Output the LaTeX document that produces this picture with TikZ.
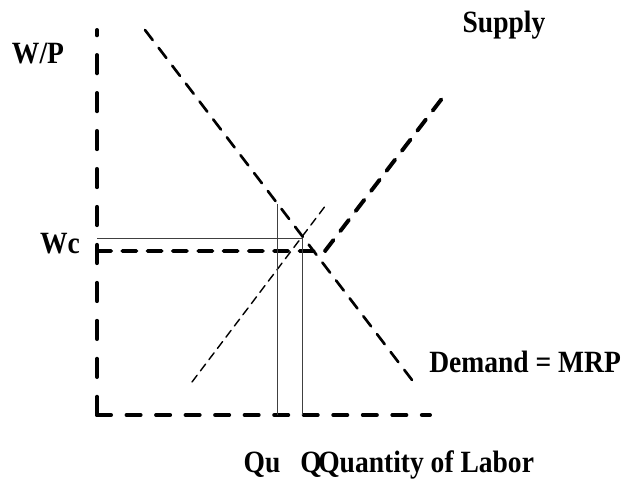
\documentclass[tikz,border=0pt]{standalone}
\usepackage{fontspec}
\setmainfont{Liberation Serif}[FakeStretch=0.89]
\usetikzlibrary{calc}
\tikzstyle{axis}=[line width=2.8pt, line cap=round, dash pattern=on 13pt off 14pt]
\tikzstyle{xaxis}=[line width=2.8pt, line cap=round, dash pattern=on 10pt off 11pt]
\tikzstyle{supply}=[line width=2.8pt, line cap=round, dash pattern=on 10pt off 8pt]
\tikzstyle{demand}=[line width=1.9pt, line cap=round, dash pattern=on 9pt off 7pt]
\tikzstyle{oldsup}=[line width=1pt, line cap=round, dash pattern=on 6pt off 4pt]
\tikzstyle{guide}=[line width=0.6pt, draw=black!75]
\tikzstyle{lbl}=[font=\bfseries\fontsize{22}{24}\selectfont, inner sep=0, anchor=base]

\begin{document}
\begin{tikzpicture}[x=0.025cm, y=-0.025cm]
\useasboundingbox (0,0) rectangle (623,479);
% axes
\coordinate (Y) at (97,30);
\coordinate (O) at (97,415);
\coordinate (X) at (430,415);
\draw[axis] (O) -- (Y);
\draw[xaxis] (O) -- (X);
% curves
\coordinate (S0) at (97,251);
\coordinate (S1) at (325,251);
\coordinate (S2) at (447,92);
\draw[supply] (S0) -- (S1) -- (S2);
\coordinate (D1) at (145,30);
\coordinate (D2) at (412,380);
\draw[demand] (D1) -- (D2);
\coordinate (T1) at (192,382);
\coordinate (T2) at (326,205);
\draw[oldsup] (T1) -- (T2);
% guides
\coordinate (E) at (302,238);
\coordinate (EW) at (97,238);
\coordinate (EQ) at (302,415);
\coordinate (U) at (277,204);
\coordinate (UQ) at (277,415);
\draw[guide] (EW) -- (E) -- (EQ);
\draw[guide] (U) -- (UQ);
% labels
\node[lbl] (wp) at (38,63) {W/P};
\node[lbl] (sup) at (504,33) {Supply};
\node[lbl] (wc) at (60,253) {Wc};
\node[lbl, anchor=base west] (dem) at (429,372) {Demand = MRP};
\node[lbl] (qu) at (262,472) {Qu};
\node[lbl] (q) at (311,472) {Q};
\node[lbl, anchor=base west] (qty) at (318,472) {Quantity of Labor};
\end{tikzpicture}
\end{document}
